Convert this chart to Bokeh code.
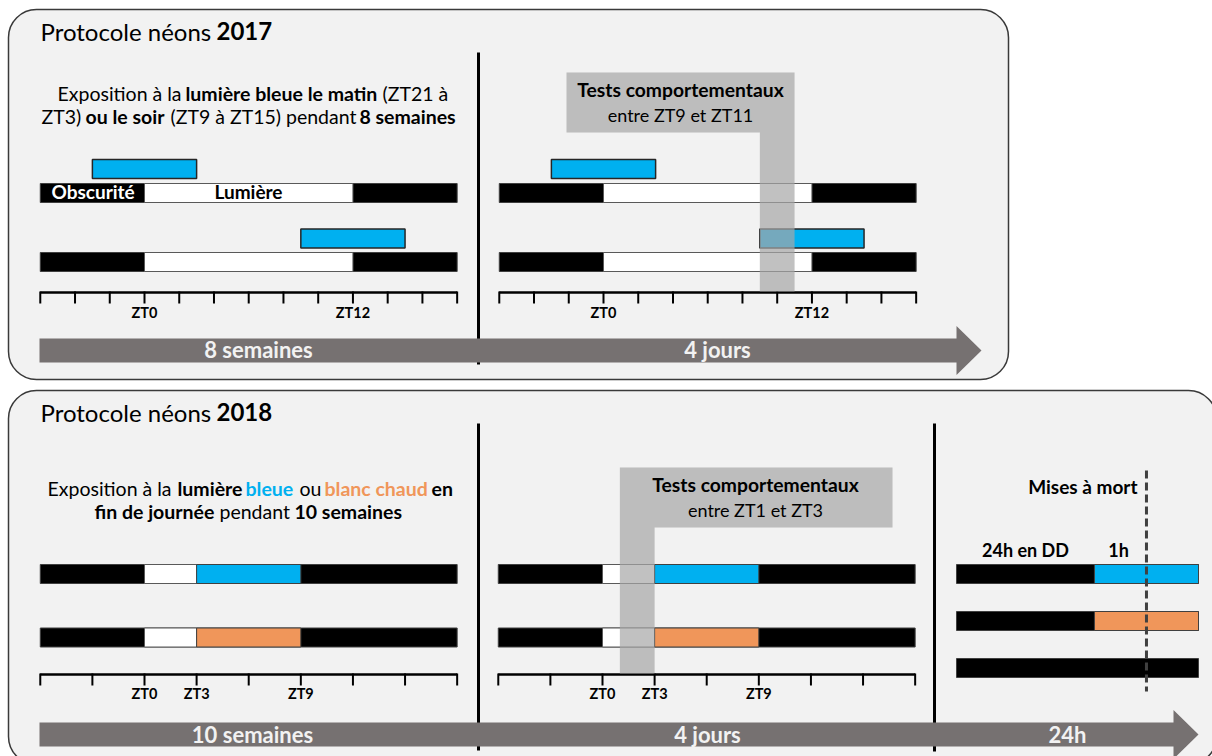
from bokeh.plotting import figure
from bokeh.models import Range1d
from bokeh.core.properties import value
from bokeh.embed import file_html
from bokeh.resources import INLINE

FONT = "Lato"
BLUE = "#00B0F0"
ORANGE = "#F0965A"
GREY_ARROW = "#767171"
PANEL_BG = "#F2F2F2"

# ------------------------------------------------------------------ data
# schedule in Zeitgeber time (hours), each timeline shows ZT-6 .. ZT18
zt_window = [-6, 18]
ld_2017 = [0, 12]                    # lights on / off
blue_morning_2017 = [-3, 3]          # ZT21 -> ZT3
blue_evening_2017 = [9, 15]          # ZT9 -> ZT15
tests_2017 = [9, 11]
ticks_2017 = [-6, -4, -2, 0, 2, 4, 6, 8, 10, 12, 14, 16, 18]
ticklabels_2017 = {0: "ZT0", 12: "ZT12"}

light_2018 = [0, 3]                  # white light
colour_2018 = [3, 9]                 # blue / warm-white light
colours_2018 = [BLUE, ORANGE]
tests_2018 = [1, 3]
ticks_2018 = [-6, -3, 0, 3, 6, 9, 12, 15, 18]
ticklabels_2018 = {0: "ZT0", 3: "ZT3", 9: "ZT9"}

# final day (not to scale): fraction of bar spent in DD, kill moment
final_rows = [BLUE, ORANGE, None]
final_dd_frac = 0.57
final_kill_frac = 0.785

arrow_labels_2017 = ["8 semaines", "4 jours"]
arrow_labels_2018 = ["10 semaines", "4 jours", "24h"]

# ------------------------------------------------------------------ layout
PXH = 17.37                       # pixels per hour
W, H = 1212, 756
def Y(v):                          # image row -> plot y
    return H - v

p = figure(width=W, height=H, output_backend="svg", toolbar_location=None,
           x_range=Range1d(0, W), y_range=Range1d(0, H), min_border=0)
p.axis.visible = False
p.grid.visible = False
p.outline_line_color = None
p.background_fill_color = "white"
p.border_fill_color = "white"

# panels
p.quad(left=[8, 8], right=[1008, 1216], top=[Y(9), Y(390)], bottom=[Y(379), Y(764)],
       fill_color=PANEL_BG, line_color="#3A3A3A", line_width=1.5, border_radius=28)

# dividers
p.segment(x0=[478, 478, 934], x1=[478, 478, 934], y0=[Y(52), Y(423), Y(423)],
          y1=[Y(364), Y(750), Y(751)], line_color="black", line_width=3)

# arrows
def arrow(x0, x1, yc):
    body = 12
    head = 24.5
    tip = 25
    xs = [x0, x1, x1, x1 + tip, x1, x1, x0]
    ys = [Y(yc - body), Y(yc - body), Y(yc - head), Y(yc), Y(yc + head), Y(yc + body), Y(yc + body)]
    return xs, ys

ax1, ay1 = arrow(39, 956, 350)
ax2, ay2 = arrow(39, 1173, 734)
p.patches(xs=[ax1, ax2], ys=[ay1, ay2], fill_color=GREY_ARROW, line_color=None)


def txt(x, y, s, size, bold=False, color="black", align="left"):
    # y is the wanted baseline row; shift by the renderer's baseline offset
    yy = y - 0.38 * size
    p.text(x=[x], y=[Y(yy)], text=[s], text_font=value(FONT), text_font_size=f"{size}px",
           text_font_style="bold" if bold else "normal", text_color=color,
           text_align=align, text_baseline="alphabetic")


def bar(x0, x1, ytop, h, color, line="#404040", lw=1.0):
    p.quad(left=[x0], right=[x1], top=[Y(ytop)], bottom=[Y(ytop + h)],
           fill_color=color, line_color=line, line_width=lw)


def timeline_axis(origin, ticks, labels, yaxis, ylab):
    xs = [origin + PXH * t for t in ticks]
    p.segment(x0=[xs[0]], x1=[xs[-1]], y0=[Y(yaxis)], y1=[Y(yaxis)],
              line_color="black", line_width=2.5)
    p.segment(x0=xs, x1=xs, y0=[Y(yaxis - 1)] * len(xs), y1=[Y(yaxis + 11)] * len(xs),
              line_color="black", line_width=2)
    for t, lab in labels.items():
        txt(origin + PXH * t, ylab, lab, 14.5, bold=True, align="center")


BAR_H = 19

# ---- 2017
for origin in [144, 603]:
    x = lambda t: origin + PXH * t
    for ytop, blue, byt in [(183, blue_morning_2017, 159), (252, blue_evening_2017, 228.5)]:
        bar(x(zt_window[0]), x(zt_window[1]), ytop, BAR_H, "black")
        bar(x(ld_2017[0]), x(ld_2017[1]), ytop, BAR_H, "white", line="#595959")
        bar(x(blue[0]), x(blue[1]), byt, BAR_H, BLUE, line="#262626", lw=1.5)
    timeline_axis(origin, ticks_2017, ticklabels_2017, 292, 318)

# tests 2017 (L-shaped grey)
tx0, tx1 = 603 + PXH * tests_2017[0], 603 + PXH * tests_2017[1]
p.patch(x=[566, tx1, tx1, tx0, tx0, 566],
        y=[Y(72), Y(72), Y(291), Y(291), Y(132), Y(132)],
        fill_color="#A6A6A6", fill_alpha=0.7, line_color=None)

# ---- 2018
for origin in [144, 602]:
    x = lambda t: origin + PXH * t
    for ytop, col in zip([564, 627.5], colours_2018):
        bar(x(zt_window[0]), x(zt_window[1]), ytop, BAR_H, "black")
        bar(x(light_2018[0]), x(light_2018[1]), ytop, BAR_H, "white", line="#595959")
        bar(x(colour_2018[0]), x(colour_2018[1]), ytop, BAR_H, col, line="#404040")
    timeline_axis(origin, ticks_2018, ticklabels_2018, 674, 699)

tx0, tx1 = 602 + PXH * tests_2018[0], 602 + PXH * tests_2018[1]
p.patch(x=[tx0, 892, 892, tx1, tx1, tx0],
        y=[Y(467), Y(467), Y(527), Y(527), Y(673), Y(673)],
        fill_color="#A6A6A6", fill_alpha=0.7, line_color=None)

# final day
fx0, fx1 = 956, 1198
fdd = fx0 + (fx1 - fx0) * final_dd_frac
for ytop, col in zip([564, 611, 658], final_rows):
    bar(fx0, fx1, ytop, BAR_H, "black")
    if col is not None:
        bar(fdd, fx1, ytop, BAR_H, col, line="#404040")
fk = fx0 + (fx1 - fx0) * final_kill_frac
p.segment(x0=[fk], x1=[fk], y0=[Y(470)], y1=[Y(691)], line_color="#404040",
          line_width=3, line_dash="8 4")

# ------------------------------------------------------------------ texts
txt(40, 40, "Protocole néons", 24)
txt(216, 40, "2017", 24, bold=True)
txt(40, 421, "Protocole néons", 24)
txt(216, 421, "2018", 24, bold=True)

DS = 19.5
txt(57, 100, "Exposition à la", DS)
txt(185, 100, "lumière bleue le matin", DS, bold=True)
txt(382, 100, "(ZT21 à", DS)
txt(41, 123.5, "ZT3)", DS)
txt(85, 123.5, "ou le soir", DS, bold=True)
txt(170, 123.5, "(ZT9 à ZT15) pendant", DS)
txt(359, 123.5, "8 semaines", DS, bold=True)

txt(47, 495, "Exposition à la", DS)
txt(177, 495, "lumière", DS, bold=True)
txt(245, 495, "bleue", DS, bold=True, color=BLUE)
txt(299, 495, "ou", DS)
txt(324, 495, "blanc chaud", DS, bold=True, color=ORANGE)
txt(431, 495, "en", DS, bold=True)
txt(94, 518, "fin de journée", DS, bold=True)
txt(219, 518, "pendant", DS)
txt(294, 518, "10 semaines", DS, bold=True)

txt(680, 96, "Tests comportementaux", 19.3, bold=True, align="center")
txt(680, 121, "entre ZT9 et ZT11", 18, align="center")
txt(755, 491, "Tests comportementaux", 19.3, bold=True, align="center")
txt(755, 516, "entre ZT1 et ZT3", 18, align="center")

txt(51, 198, "Obscurité", 19, bold=True, color="white")
txt(248, 198, "Lumière", 19, bold=True, align="center")

txt(1137, 493, "Mises à mort", 19, bold=True, align="right")
txt(1025, 556, "24h en DD", 18, bold=True, align="center")
txt(1118, 556, "1h", 18, bold=True, align="center")

AS = 22
for lab, xc in zip(arrow_labels_2017, [258, 717]):
    txt(xc, 357, lab, AS, bold=True, color=PANEL_BG, align="center")
for lab, xc in zip(arrow_labels_2018, [252, 707, 1067]):
    txt(xc, 742, lab, AS, bold=True, color=PANEL_BG, align="center")

open("out.html", "w").write(file_html(p, INLINE))
